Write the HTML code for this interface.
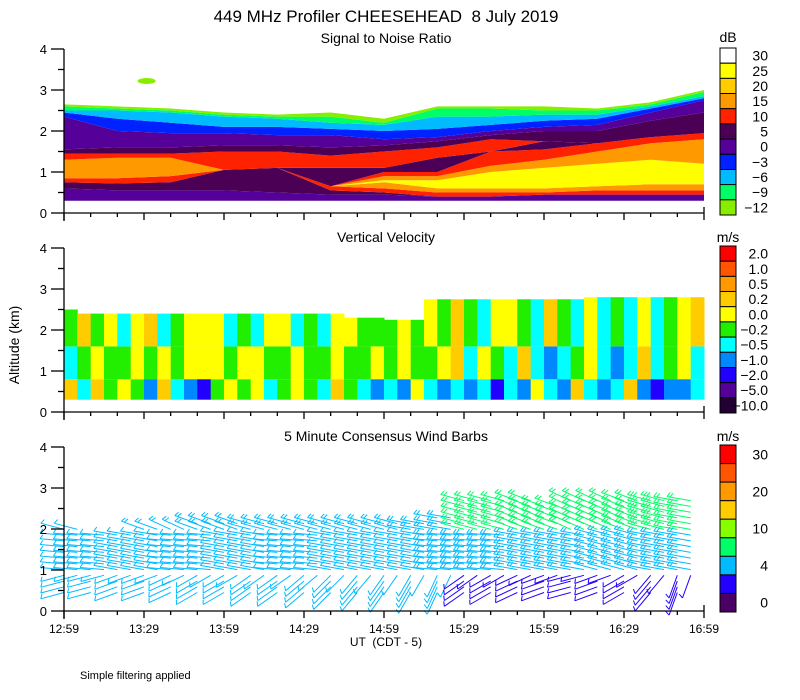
<!DOCTYPE html>
<html><head><meta charset="utf-8">
<style>
html,body{margin:0;padding:0;background:#fff;}
svg{display:block;font-family:"Liberation Sans",sans-serif;}
</style></head>
<body>
<svg id="chart" width="800" height="700" viewBox="0 0 800 700" xmlns="http://www.w3.org/2000/svg">
<text x="386" y="22" text-anchor="middle" font-size="17" style="white-space:pre">449 MHz Profiler CHEESEHEAD  8 July 2019</text>
<text x="386" y="43" text-anchor="middle" font-size="14">Signal to Noise Ratio</text>
<text x="386" y="242" text-anchor="middle" font-size="14">Vertical Velocity</text>
<text x="386" y="441" text-anchor="middle" font-size="14">5 Minute Consensus Wind Barbs</text>
<text x="19" y="345" text-anchor="middle" font-size="14" transform="rotate(-90 19 345)">Altitude (km)</text>
<text x="386" y="646" text-anchor="middle" font-size="12" style="white-space:pre">UT  (CDT - 5)</text>
<text x="80" y="679" font-size="11">Simple filtering applied</text>
<text x="728" y="42" text-anchor="middle" font-size="14">dB</text>
<text x="728" y="242" text-anchor="middle" font-size="14">m/s</text>
<text x="728" y="441" text-anchor="middle" font-size="14">m/s</text>
<g id="layers"></g>
</svg>
<script>
// ---------- data ----------
const timeLabels = ["12:59","13:29","13:59","14:29","14:59","15:29","15:59","16:29","16:59"];
const snrNodeMin = [0,20,40,60,80,100,120,140,160,180,200,220,240];
const snrColors = ["#550099","#4b0055","#ff2200","#ff9900","#ffff00","#ff9900","#ff2200","#4b0055","#ff2200","#4b0055","#550099","#0022ff","#00bbff","#00ff66","#88ee00"];
const snrTop0 = [.6,.75,.85,1.3,1.3,1.3,1.3,1.3,1.45,1.55,2.35,2.45,2.5,2.6,2.65];
const snrTop1 = [.55,.72,.85,1.35,1.35,1.35,1.35,1.35,1.45,1.6,2.0,2.3,2.5,2.55,2.6];
const snrTop2 = [.55,.75,.9,1.35,1.35,1.35,1.35,1.35,1.45,1.6,1.95,2.2,2.45,2.5,2.55];
const snrTop3 = [.55,1.05,1.05,1.05,1.05,1.05,1.05,1.05,1.5,1.65,1.95,2.1,2.35,2.4,2.45];
const snrTop4 = [.5,1.1,1.1,1.1,1.1,1.1,1.1,1.1,1.5,1.65,1.9,2.1,2.3,2.35,2.4];
const snrTop5 = [.45,.55,.65,.65,.65,.65,.65,1.1,1.4,1.6,1.9,2.05,2.2,2.35,2.45];
const snrTop6 = [.45,.5,.6,.75,.8,.9,1.0,1.1,1.5,1.65,1.8,2.0,2.15,2.2,2.3];
const snrTop7 = [.4,.4,.5,.6,.8,.9,1.0,1.35,1.6,1.75,1.85,2.05,2.35,2.55,2.6];
const snrTop8 = [.4,.4,.5,.6,1.0,1.15,1.5,1.5,1.8,1.9,2.0,2.15,2.35,2.55,2.6];
const snrTop9 = [.45,.45,.5,.6,1.1,1.3,1.55,1.75,1.75,2.0,2.1,2.25,2.4,2.5,2.6];
const snrTop10 = [.45,.45,.55,.65,1.2,1.5,1.7,1.7,1.7,2.0,2.15,2.3,2.4,2.5,2.55];
const snrTop11 = [.45,.45,.55,.7,1.3,1.7,1.85,1.85,1.85,2.25,2.45,2.55,2.6,2.65,2.7];
const snrTop12 = [.45,.45,.55,.7,1.2,1.8,1.95,1.95,1.95,2.45,2.75,2.8,2.85,2.95,3.0];
const snrTops = [snrTop0,snrTop1,snrTop2,snrTop3,snrTop4,snrTop5,snrTop6,snrTop7,snrTop8,snrTop9,snrTop10,snrTop11,snrTop12];
const snrBase = 0.3;

// vertical velocity, 48 columns of 5 minutes (m/s)
const velTop = [2.5,2.4,2.4,2.4,2.4,2.4,2.4,2.4,2.4,2.4,2.4,2.4,2.4,2.4,2.4,2.4,2.4,2.4,2.4,2.4,2.4,2.3,2.3,2.3,2.25,2.25,2.25,2.75,2.75,2.75,2.75,2.75,2.75,2.75,2.75,2.75,2.75,2.75,2.75,2.8,2.8,2.8,2.8,2.8,2.8,2.8,2.8,2.8];
const velUp = [-0.1,0.3,-0.1,0.1,-0.3,0.1,0.3,-0.3,-0.1,0.1,0.1,0.1,-0.3,-0.1,-0.3,0.1,0.1,-0.3,-0.1,-0.3,0.1,0.1,-0.1,-0.1,-0.1,0.1,-0.1,0.1,-0.1,0.3,-0.1,-0.3,0.1,0.1,-0.1,-0.3,0.3,-0.1,-0.3,0.1,-0.3,-0.1,-0.3,0.1,-0.3,-0.1,0.1,0.3];
const velMid = [-0.3,-0.1,0.1,-0.1,-0.1,0.1,-0.1,0.1,-0.1,0.1,0.1,0.1,-0.1,0.1,0.1,-0.1,-0.1,0.1,-0.1,-0.1,0.1,-0.1,-0.1,0.1,-0.1,0.1,-0.1,-0.1,0.1,0.3,-0.3,0.1,-0.1,-0.3,0.3,-0.3,-0.7,-0.3,-0.1,0.1,-0.3,-0.7,-0.3,0.3,-0.3,-0.1,0.1,-0.3];
const velLow = [0.3,-0.3,0.3,-0.1,0.1,-0.1,-0.7,0.3,-0.3,-0.7,-1.5,-0.1,0.1,-0.1,0.1,-0.3,-0.1,0.1,-0.1,-0.3,0.3,-0.1,-0.3,-0.7,-0.3,-0.7,0.1,-0.3,-0.7,-0.3,-0.7,-0.3,-1.5,-0.3,-0.7,0.1,-0.3,-0.7,0.3,-0.3,-0.7,-0.3,0.3,-0.7,-1.5,-0.7,-0.7,-0.3];
const velThresh = [2.0,1.0,0.5,0.2,0.0,-0.2,-0.5,-1.0,-2.0,-5.0];
const velColors = ["#ff0000","#ff5500","#ff9900","#ffcc00","#ffff00","#22ee00","#00ffff","#0088ff","#2200ff","#550099","#220033"];

// winds, 25 columns of 10 minutes
const windTop = [2.0,1.9,1.95,2.0,2.05,2.15,2.2,2.2,2.2,2.15,2.15,2.2,2.2,2.25,2.3,2.75,2.7,2.7,2.65,2.7,2.7,2.75,2.75,2.8,2.8];
const windSpdLow = [6,6,5,6,6,5,6,6,6,5,5,4,5,6,5,3,3,3,3,2,3,3,3,3,3];
const windSpdMid = [7,7,7,7,7,7,7,7,7,7,7,7,7,7,8,8,8,9,8,8,8,8,9,9,9];
const windSpdUp = [7,7,7,8,8,8,8,8,8,8,8,8,9,9,9,11,12,12,12,12,12,12,13,12,13];
const windDirLow = [255,255,250,250,245,240,240,235,235,230,225,220,215,210,205,235,240,245,250,255,250,240,220,200,195];
const windDirMid = [275,275,280,280,275,275,280,280,275,275,280,280,280,280,275,275,275,280,280,280,285,285,280,280,280];
const windDirUp = [285,285,290,290,295,290,290,285,285,285,285,285,285,280,280,285,285,290,290,295,295,290,285,280,275];
const windSpdBounds = [4,10,15,20,25,30];
const windColors = ["#2200ff","#00bbff","#00ff66","#88ff00","#ffcc00","#ff9900","#ff5500","#ff0000"];

// ---------- axes ----------
const NS = "http://www.w3.org/2000/svg";
const root = document.getElementById("layers");
const X0 = 64, X1 = 704, TMIN = 240;
const PX_KM = 41;
const panelY0 = [213, 412, 611];
function xs(min){ return X0 + (X1 - X0) * min / TMIN; }
function ys(p, km){ return panelY0[p] - km * PX_KM; }
function mk(tag, attrs, parent){
  const e = document.createElementNS(NS, tag);
  for (const k in attrs) e.setAttribute(k, attrs[k]);
  (parent || root).appendChild(e);
  return e;
}

// ---------- SNR panel ----------
const gSnr = mk("g", {});


for (let b = 0; b < snrColors.length; b++) {
  const upper = [], lower = [];
  for (let n = 0; n < snrNodeMin.length; n++) {
    const lo = b === 0 ? snrBase : snrTops[n][b-1];
    upper.push(xs(snrNodeMin[n]).toFixed(1) + "," + ys(0, snrTops[n][b]).toFixed(1));
    lower.unshift(xs(snrNodeMin[n]).toFixed(1) + "," + ys(0, lo).toFixed(1));
  }
  const p = mk("polygon", {points: upper.concat(lower).join(" "), fill: snrColors[b]}, gSnr);
  
  
}
const blob = mk("ellipse", {cx: xs(31), cy: ys(0, 3.22), rx: 9, ry: 3, fill: "#88ee00"}, gSnr);



// ---------- velocity panel ----------
function velColor(v){
  for (let i = 0; i < velThresh.length; i++) if (v >= velThresh[i]) return velColors[i];
  return velColors[velColors.length-1];
}
const gVel = mk("g", {});


for (let i = 0; i < velTop.length; i++) {
  const xa = xs(i*5), xb = xs((i+1)*5);
  const segs = [[0.3, 0.8, velLow[i]], [0.8, 1.6, velMid[i]], [1.6, velTop[i], velUp[i]]];
  for (const s of segs) {
    const r = mk("rect", {x: xa.toFixed(1), y: ys(1, s[1]).toFixed(1), width: (xb-xa+0.5).toFixed(1), height: ((s[1]-s[0])*PX_KM).toFixed(1), fill: velColor(s[2])}, gVel);
    
    
  }
}

// ---------- wind barbs ----------
function windColor(s){
  for (let i = 0; i < windSpdBounds.length; i++) if (s < windSpdBounds[i]) return windColors[i];
  return windColors[windColors.length-1];
}
const gWind = mk("g", {"stroke-width": 1});


for (let c = 0; c < windTop.length; c++) {
  for (let sub = 0; sub < 2; sub++) {
    const tmin = c*10 + sub*5;
    if (tmin > 235) continue;
    for (let h = 0.45; h <= windTop[c] + 0.001; h += 0.14) {
      let spd, dir;
      if (h < 1.0) { spd = windSpdLow[c]; dir = windDirLow[c]; if (sub === 1 && h < 0.8) continue; }
      else if (h < 1.9) { spd = windSpdMid[c]; dir = windDirMid[c]; }
      else { spd = windSpdUp[c]; dir = windDirUp[c]; }
      const x = xs(tmin), y = ys(2, h);
      const a = dir * Math.PI / 180;
      const L = 24;
      const ex = x + Math.sin(a) * L, ey = y - Math.cos(a) * L;
      const col = windColor(spd);
      const ln = mk("line", {x1: x.toFixed(1), y1: y.toFixed(1), x2: ex.toFixed(1), y2: ey.toFixed(1), stroke: col}, gWind);
      
      
      const nf = Math.max(1, Math.round(spd / 5));
      for (let f = 0; f < nf; f++) {
        const bx = x + Math.sin(a) * (L - f*3), by = y - Math.cos(a) * (L - f*3);
        const fa = a + Math.PI/2 + 0.5;
        const fl = 5;
        const fe = mk("line", {x1: bx.toFixed(1), y1: by.toFixed(1), x2: (bx + Math.sin(fa)*fl).toFixed(1), y2: (by - Math.cos(fa)*fl).toFixed(1), stroke: col}, gWind);
        
        
      }
    }
  }
}

// ---------- axes for each panel ----------
for (let p = 0; p < 3; p++) {
  const g = mk("g", {stroke: "#000", "stroke-width": 1.3, fill: "none"});
  
  
  mk("line", {x1: X0, y1: ys(p, 4), x2: X0, y2: ys(p, 0) + 8}, g);
  mk("line", {x1: X0, y1: ys(p, 0), x2: X1, y2: ys(p, 0)}, g);
  mk("line", {x1: X1, y1: ys(p, 0), x2: X1, y2: ys(p, 0) - 6}, g);
  for (let k = 0; k <= 8; k++) {
    const km = k * 0.5, y = ys(p, km);
    mk("line", {x1: k % 2 === 0 ? X0 - 13 : X0 - 6, y1: y, x2: X0, y2: y}, g);
    if (k % 2 === 0) {
      const t = mk("text", {x: X0 - 17, y: y + 5, "text-anchor": "end", "font-size": 13, fill: "#000", stroke: "none"});
      t.textContent = String(km);
      
      
    }
  }
  for (let m = 0; m <= TMIN; m += 10) {
    const x = xs(m);
    mk("line", {x1: x, y1: ys(p, 0), x2: x, y2: ys(p, 0) + (m % 30 === 0 ? 7 : 4)}, g);
  }
}
timeLabels.forEach((lab, i) => {
  const t = mk("text", {x: xs(i*30), y: 633, "text-anchor": "middle", "font-size": 12});
  t.textContent = lab;
  
  
});

// ---------- colorbars ----------
function colorbar(top, bottom, colors, labels, labelIdx, name){
  const g = mk("g", {});
  
  
  const h = (bottom - top) / colors.length;
  colors.forEach((c, i) => {
    const r = mk("rect", {x: 720, y: (top + i*h).toFixed(1), width: 16, height: h.toFixed(1), fill: c, stroke: "#000", "stroke-width": 1}, g);
    
    
  });
  labels.forEach((l, i) => {
    const t = mk("text", {x: 768, y: (top + (labelIdx[i] + 0.5)*h + 5).toFixed(1), "text-anchor": "end", "font-size": 14}, g);
    t.textContent = l;
    
    
  });
}
colorbar(48, 215, ["#ffffff","#ffff00","#ffcc00","#ff9900","#ff2200","#4b0055","#550099","#0022ff","#00bbff","#00ff66","#88ee00"],
  ["30","25","20","15","10","5","0","\u22123","\u22126","\u22129","\u221212"], [0,1,2,3,4,5,6,7,8,9,10], "snr-colorbar");
colorbar(246, 413, velColors,
  ["2.0","1.0","0.5","0.2","0.0","\u22120.2","\u22120.5","\u22121.0","\u22122.0","\u22125.0","\u221210.0"], [0,1,2,3,4,5,6,7,8,9,10], "velocity-colorbar");
colorbar(445, 612, ["#ff0000","#ff5500","#ff9900","#ffcc00","#88ff00","#00ff66","#00bbff","#2200ff","#4b0066"],
  ["30","20","10","4","0"], [0,2,4,6,8], "wind-colorbar");
</script>
</body></html>
